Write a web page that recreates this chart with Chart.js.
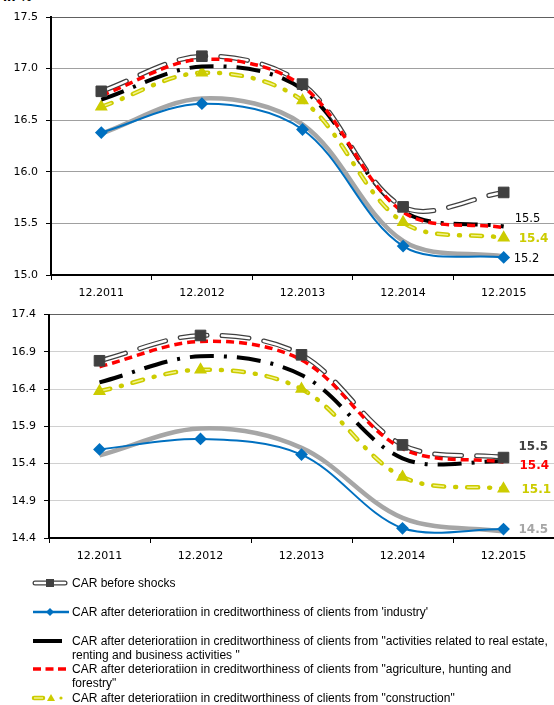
<!DOCTYPE html>
<html>
<head>
<meta charset="utf-8">
<script src="https://cdn.jsdelivr.net/npm/chart.js@4"></script>
<style>
  body { margin: 0; width: 554px; height: 705px; background: #fff; position: relative; overflow: hidden; }
  .box { position: absolute; left: 0; width: 554px; }
  .unit { position: absolute; left: 3px; top: -10px; font: bold 12px "DejaVu Sans"; }
  .item { position: absolute; left: 0; width: 554px; height: 14px; }
  .item svg { position: absolute; left: 31px; top: 0; }
  .item span { position: absolute; left: 72px; top: 0; font: 12px/14px "Liberation Sans"; white-space: nowrap; color: #000; }
</style>
</head>
<body>
<div class="unit">in %</div>
<div class="box" style="top:0;height:305px"><canvas id="topChart"></canvas></div>
<div class="box" style="top:300px;height:268px"><canvas id="bottomChart"></canvas></div>

<div class="item" style="top:576px">
  <svg width="38" height="14"><line x1="4" y1="7" x2="34" y2="7" stroke="#404040" stroke-width="5" stroke-linecap="round"/><line x1="4" y1="7" x2="34" y2="7" stroke="#fff" stroke-width="2.5" stroke-linecap="round"/><rect x="15" y="3" width="8" height="8" fill="#404040"/></svg>
  <span>CAR before shocks</span>
</div>
<div class="item" style="top:605px">
  <svg width="38" height="14"><line x1="2" y1="7" x2="38" y2="7" stroke="#0070C0" stroke-width="2.5"/><path d="M19 3 L23 7 L19 11 L15 7 Z" fill="#0070C0"/></svg>
  <span>CAR after deterioratiion in creditworthiness of clients from 'industry'</span>
</div>
<div class="item" style="top:634px">
  <svg width="38" height="14"><line x1="2" y1="7" x2="31" y2="7" stroke="#000" stroke-width="4"/></svg>
  <span>CAR after deterioratiion in creditworthiness of clients from "activities related to real estate,<br>renting and business activities "</span>
</div>
<div class="item" style="top:662px">
  <svg width="38" height="14"><line x1="2" y1="7" x2="36" y2="7" stroke="#FF0000" stroke-width="3.5" stroke-dasharray="8,4.5"/></svg>
  <span>CAR after deterioratiion in creditworthiness of clients from "agriculture, hunting and<br>forestry"</span>
</div>
<div class="item" style="top:691px">
  <svg width="38" height="14"><line x1="3" y1="7" x2="12" y2="7" stroke="#CCCC00" stroke-width="4.5" stroke-linecap="round"/><line x1="3" y1="7" x2="12" y2="7" stroke="#F2F28C" stroke-width="1.5"/><path d="M20 3 L24 10 L16 10 Z" fill="#CCCC00"/><circle cx="30" cy="7" r="1.6" fill="#CCCC00"/></svg>
  <span>CAR after deterioratiion in creditworthiness of clients from "construction"</span>
</div>

<script>
const categories = ['12.2011', '12.2012', '12.2013', '12.2014', '12.2015'];

// upper panel
const beforeTop = [16.78, 17.12, 16.85, 15.66, 15.80];
const industryTop = [16.38, 16.66, 16.41, 15.28, 15.17];
const realEstateTop = [16.70, 17.02, 16.80, 15.62, 15.47];
const agricultureTop = [16.74, 17.09, 16.83, 15.61, 15.46];
const constructionTop = [16.63, 16.96, 16.69, 15.51, 15.36];
const grayTop = [16.37, 16.71, 16.46, 15.33, 15.18];
const topTicks = [15.0, 15.5, 16.0, 16.5, 17.0, 17.5];

// lower panel
const beforeBottom = [16.78, 17.12, 16.86, 15.65, 15.48];
const industryBottom = [15.59, 15.73, 15.52, 14.53, 14.52];
const realEstateBottom = [16.49, 16.84, 16.59, 15.47, 15.43];
const agricultureBottom = [16.70, 17.04, 16.79, 15.60, 15.42];
const constructionBottom = [16.37, 16.66, 16.40, 15.22, 15.06];
const grayBottom = [15.51, 15.87, 15.61, 14.67, 14.49];
const bottomTicks = [14.4, 14.9, 15.4, 15.9, 16.4, 16.9, 17.4];

Chart.defaults.font.family = 'DejaVu Sans';
Chart.defaults.font.size = 11;
Chart.defaults.color = '#000';

const TENSION = 0.34;

function makeDatasets(before, industry, realEstate, agriculture, construction, gray) {
    return [
        { key: 'gray', data: gray, borderColor: '#A6A6A6', borderWidth: 4.5, pointRadius: 0, order: 10 },
        { key: 'industry', data: industry, borderColor: '#0070C0', borderWidth: 2, pointStyle: 'rectRot', pointRadius: 5,
          pointBackgroundColor: '#0070C0', pointBorderColor: '#0070C0', order: 9 },
        { key: 'construction', data: construction, borderColor: '#CCCC00', borderWidth: 4.5,
          borderDash: [11, 11, 1, 11], borderCapStyle: 'round', pointRadius: 0, order: 8 },
        { key: 'constructionInner', data: construction, borderColor: '#F2F28C', borderWidth: 1.5,
          borderDash: [11, 23], borderCapStyle: 'butt', pointStyle: 'triangle', pointRadius: 6,
          pointBackgroundColor: '#CCCC00', pointBorderColor: '#CCCC00', order: 7 },
        { key: 'realEstate', data: realEstate, borderColor: '#000', borderWidth: 4,
          borderDash: [24, 10, 3, 10], pointRadius: 0, order: 6 },
        { key: 'beforeOuter', data: before, borderColor: '#404040', borderWidth: 5,
          borderDash: [27, 15], borderCapStyle: 'round', pointRadius: 0, order: 5 },
        { key: 'beforeInner', data: before, borderColor: '#fff', borderWidth: 2.5,
          borderDash: [27, 15], borderCapStyle: 'round', pointRadius: 0, order: 4 },
        { key: 'agriculture', data: agriculture, borderColor: '#FF0000', borderWidth: 3.5,
          borderDash: [8, 5], pointRadius: 0, order: 3 },
        { key: 'beforeMarks', data: before, showLine: false, pointStyle: 'rect', pointRadius: 7.5,
          pointBackgroundColor: '#404040', pointBorderColor: '#404040', order: 0 }
    ];
}

// value labels at the last point
const endLabels = {
    id: 'endLabels',
    afterDatasetsDraw(chart, args, opts) {
        const ctx = chart.ctx;
        ctx.save();
        ctx.textBaseline = 'middle';
        ctx.textAlign = 'left';
        opts.items.forEach(function(it) {
            const idx = chart.data.datasets.findIndex(d => d.key === it.key);
            const meta = chart.getDatasetMeta(idx);
            const last = meta.data[meta.data.length - 1];
            const values = chart.data.datasets[idx].data;
            ctx.font = it.font;
            ctx.fillStyle = it.color;
            ctx.fillText(values[values.length - 1].toFixed(1), last.x + it.dx, last.y + it.dy);
        });
        ctx.restore();
    }
};

function makeChart(id, datasets, ticks, axisWidth, topPad, labels) {
    const ctx = document.getElementById(id).getContext('2d');
    return new Chart(ctx, {
        type: 'line',
        data: { labels: categories, datasets: datasets },
        options: {
            responsive: true,
            maintainAspectRatio: false,
            animation: false,
            datasets: { line: { tension: TENSION, fill: false, clip: false } },
            layout: { autoPadding: false, padding: { top: topPad, left: 0, right: 0, bottom: 0 } },
            plugins: {
                legend: { display: false },
                tooltip: { enabled: false },
                endLabels: { items: labels }
            },
            scales: {
                x: {
                    offset: true,
                    grid: { display: true, offset: true, drawOnChartArea: false, drawTicks: true, tickLength: 5, tickColor: '#000' },
                    border: { color: '#000', width: 2 },
                    ticks: { padding: 7, maxRotation: 0, font: { size: 11 } },
                    afterFit(scale) {
                        scale.height = 30;
                        scale.paddingLeft = 0;
                        scale.paddingRight = 0;
                    }
                },
                y: {
                    min: ticks[0],
                    max: ticks[ticks.length - 1],
                    afterBuildTicks(scale) { scale.ticks = ticks.map(v => ({ value: v })); },
                    grid: {
                        color: ctx2 => ctx2.index === ticks.length - 1 ? '#606060' : (id === 'topChart' ? '#A0A0A0' : '#D0D0D0'),
                        tickLength: 5,
                        tickColor: '#000'
                    },
                    border: { color: '#000', width: 2 },
                    ticks: { padding: 8, callback: v => Number(v).toFixed(1), font: { size: 11 } },
                    afterFit(scale) { scale.width = axisWidth; }
                }
            }
        },
        plugins: [endLabels]
    });
}

makeChart('topChart',
    makeDatasets(beforeTop, industryTop, realEstateTop, agricultureTop, constructionTop, grayTop),
    topTicks, 51, 17,
    [
        { key: 'realEstate', color: '#000', font: '11.5px "DejaVu Sans"', dx: 11, dy: -7 },
        { key: 'construction', color: '#CCCC00', font: 'bold 12px "DejaVu Sans"', dx: 15, dy: 1 },
        { key: 'industry', color: '#000', font: '11.5px "DejaVu Sans"', dx: 10, dy: 2 }
    ]);

makeChart('bottomChart',
    makeDatasets(beforeBottom, industryBottom, realEstateBottom, agricultureBottom, constructionBottom, grayBottom),
    bottomTicks, 49, 11,
    [
        { key: 'beforeMarks', color: '#404040', font: 'bold 12px "DejaVu Sans"', dx: 15, dy: -11 },
        { key: 'agriculture', color: '#FF0000', font: 'bold 12px "DejaVu Sans"', dx: 16, dy: 4 },
        { key: 'construction', color: '#CCCC00', font: 'bold 12px "DejaVu Sans"', dx: 18, dy: 1 },
        { key: 'gray', color: '#A6A6A6', font: 'bold 12px "DejaVu Sans"', dx: 15, dy: -1 }
    ]);
</script>
</body>
</html>
